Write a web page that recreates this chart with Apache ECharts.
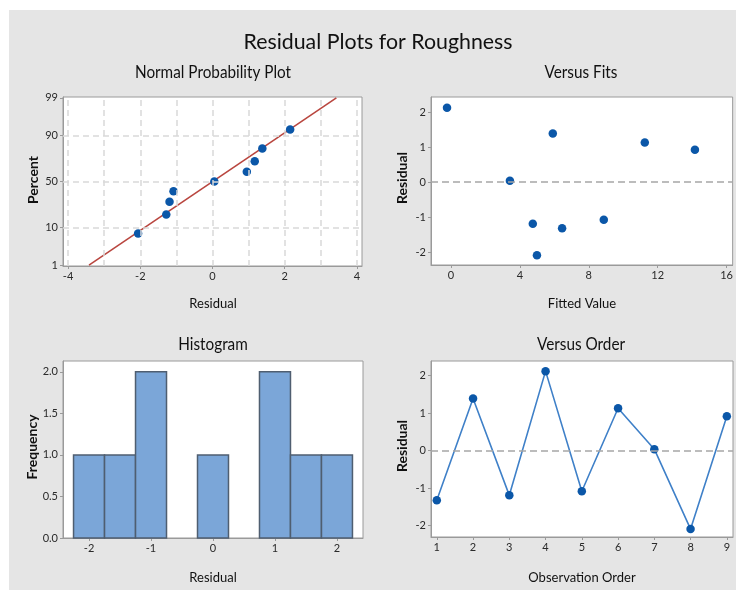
<!DOCTYPE html>
<html><head><meta charset="utf-8">
<script src="https://cdn.jsdelivr.net/npm/echarts@6/dist/echarts.min.js"></script>
<style>html,body{margin:0;padding:0;background:#fff}#c{width:736px;height:590px}</style>
</head><body><div id="c"></div>
<script>
// ---------------- data ----------------
const observationOrder = [1, 2, 3, 4, 5, 6, 7, 8, 9];
const residuals = [-1.32, 1.39, -1.19, 2.12, -1.08, 1.13, 0.04, -2.09, 0.92];
const fittedValues = [6.45, 5.91, 4.75, -0.23, 8.87, 11.25, 3.42, 4.99, 14.16];
const probResiduals = [-2.06, -1.28, -1.19, -1.08, 0.05, 0.95, 1.17, 1.38, 2.15];
const probPercents = [7.4, 17.9, 28.7, 39.4, 50, 60.6, 71.3, 82.1, 92.6];
const fitLineResiduals = [-3.42, 3.43];
const fitLinePercents = [1, 99];
const binStarts = [-2.25, -1.75, -1.25, -0.75, -0.25, 0.25, 0.75, 1.25, 1.75];
const binEnds = [-1.75, -1.25, -0.75, -0.25, 0.25, 0.75, 1.25, 1.75, 2.25];
const frequencies = [1, 1, 2, 0, 1, 0, 2, 1, 1];
const percentTicks = [1, 10, 50, 90, 99];
const percentGrid = [10, 50, 90];
const probResidualTicks = [-4, -2, 0, 2, 4];
const probResidualGrid = [-4, -3, -2, -1, 0, 1, 2, 3, 4];
const fittedTicks = [0, 4, 8, 12, 16];
const residualTicks = [-2, -1, 0, 1, 2];
const histResidualTicks = [-2, -1, 0, 1, 2];
const frequencyTicks = [0, 0.5, 1, 1.5, 2];
const orderTicks = [1, 2, 3, 4, 5, 6, 7, 8, 9];

// ---------------- helpers ----------------
function normInv(p) {
  const a = [-3.969683028665376e+01, 2.209460984245205e+02, -2.759285104469687e+02, 1.383577518672690e+02, -3.066479806614716e+01, 2.506628277459239e+00];
  const b = [-5.447609879822406e+01, 1.615858368580409e+02, -1.556989798598866e+02, 6.680131188771972e+01, -1.328068155288572e+01];
  const c = [-7.784894002430293e-03, -3.223964580411365e-01, -2.400758277161838e+00, -2.549732810004342e+00, 4.374664141464968e+00, 2.938163982698783e+00];
  const d = [7.784695709041462e-03, 3.224671290700398e-01, 2.445134137142996e+00, 3.754408661907416e+00];
  const pl = 0.02425, ph = 1 - pl;
  let q, r;
  if (p < pl) { q = Math.sqrt(-2 * Math.log(p)); return (((((c[0]*q+c[1])*q+c[2])*q+c[3])*q+c[4])*q+c[5]) / ((((d[0]*q+d[1])*q+d[2])*q+d[3])*q+1); }
  if (p <= ph) { q = p - 0.5; r = q*q; return (((((a[0]*r+a[1])*r+a[2])*r+a[3])*r+a[4])*r+a[5])*q / (((((b[0]*r+b[1])*r+b[2])*r+b[3])*r+b[4])*r+1); }
  q = Math.sqrt(-2 * Math.log(1 - p));
  return -(((((c[0]*q+c[1])*q+c[2])*q+c[3])*q+c[4])*q+c[5]) / ((((d[0]*q+d[1])*q+d[2])*q+d[3])*q+1);
}
const zOf = pct => normInv(pct / 100);

const FONT = 'Lato';
const AX = '#9a9a9a';

function valAxis(gridIndex, min, max, ticks, fmt) {
  return {
    type: 'value', gridIndex: gridIndex, min: min, max: max,
    axisLine: { show: true, onZero: false, lineStyle: { color: AX, width: 1 } },
    axisTick: { show: true, customValues: ticks, length: 3, lineStyle: { color: AX } },
    axisLabel: { customValues: ticks, color: '#2a2a2a', fontSize: 11, fontFamily: FONT, margin: 5, formatter: fmt },
    splitLine: { show: false }
  };
}

const gridStyle = { show: true, borderColor: AX, borderWidth: 1, backgroundColor: '#fff' };
const zeroLine = {
  silent: true, symbol: 'none', animation: false,
  label: { show: false },
  lineStyle: { color: '#a6a6a6', type: [7, 4], width: 1.5 },
  data: [{ yAxis: 0 }]
};

function txt(x, y, text, size, rot, weight, sx) {
  return {
    type: 'text', x: x, y: y, rotation: rot || 0, scaleX: sx || 1, z: 100,
    style: { text: text, fill: '#111', fontSize: size, fontWeight: weight || 'normal', fontFamily: FONT, align: 'center', verticalAlign: 'middle' }
  };
}

const chart = echarts.init(document.getElementById('c'), null, { renderer: 'canvas' });
chart.setOption({
  animation: false,
  backgroundColor: '#e5e5e5',
  graphic: [
    { type: 'rect', shape: { x: 0, y: 0, width: 736, height: 10 }, style: { fill: '#fff' }, z: -1 },
    { type: 'rect', shape: { x: 0, y: 0, width: 9, height: 590 }, style: { fill: '#fff' }, z: -1 },
    txt(378, 42, 'Residual Plots for Roughness', 22, 0, 'normal', 0.97),
    txt(213, 73, 'Normal Probability Plot', 17, 0, 'normal', 0.9),
    txt(581, 73, 'Versus Fits', 17, 0, 'normal', 0.9),
    txt(213, 345, 'Histogram', 17, 0, 'normal', 0.9),
    txt(581, 345, 'Versus Order', 17, 0, 'normal', 0.9),
    txt(213, 304, 'Residual', 13),
    txt(582, 304, 'Fitted Value', 13),
    txt(213, 578, 'Residual', 13),
    txt(582, 578, 'Observation Order', 13),
    txt(33, 180, 'Percent', 14, Math.PI / 2, 'bold'),
    txt(402, 178, 'Residual', 14, Math.PI / 2, 'bold'),
    txt(32, 447, 'Frequency', 14, Math.PI / 2, 'bold'),
    txt(402, 446, 'Residual', 14, Math.PI / 2, 'bold')
  ],
  grid: [
    Object.assign({ left: 63, top: 97, width: 299, height: 169 }, gridStyle),
    Object.assign({ left: 431, top: 97, width: 302, height: 168 }, gridStyle),
    Object.assign({ left: 63, top: 361, width: 300, height: 177 }, gridStyle),
    Object.assign({ left: 431, top: 361, width: 302, height: 176 }, gridStyle)
  ],
  xAxis: [
    valAxis(0, -4.14, 4.14, probResidualTicks, v => String(v)),
    valAxis(1, -1.16, 16.35, fittedTicks, v => String(v)),
    valAxis(2, -2.42, 2.42, histResidualTicks, v => String(v)),
    valAxis(3, 0.84, 9.17, orderTicks, v => String(v))
  ],
  yAxis: [
    valAxis(0, -2.35, 2.35, percentTicks.map(zOf), v => {
      let best = percentTicks[0];
      percentTicks.forEach(p => { if (Math.abs(zOf(p) - v) < Math.abs(zOf(best) - v)) best = p; });
      return String(best);
    }),
    valAxis(1, -2.37, 2.43, residualTicks, v => String(v)),
    valAxis(2, 0, 2.13, frequencyTicks, v => v.toFixed(1)),
    valAxis(3, -2.30, 2.39, residualTicks, v => String(v))
  ],
  series: [
    {
      type: 'scatter', xAxisIndex: 0, yAxisIndex: 0, z: 1, symbolSize: 0, data: [],
      markLine: {
        silent: true, symbol: 'none', animation: false, label: { show: false },
        lineStyle: { color: '#d9d9d9', type: [6, 4], width: 1.5 },
        data: percentGrid.map(p => ({ yAxis: zOf(p) })).concat(probResidualGrid.map(v => ({ xAxis: v })))
      }
    },
    {
      type: 'line', xAxisIndex: 0, yAxisIndex: 0, z: 2, symbol: 'none',
      lineStyle: { color: '#b9463f', width: 1.6 },
      data: fitLineResiduals.map((x, i) => [x, zOf(fitLinePercents[i])])
    },
    {
      type: 'scatter', xAxisIndex: 0, yAxisIndex: 0, z: 3, symbolSize: 8.5,
      itemStyle: { color: '#0b57a8', opacity: 1 },
      data: probResiduals.map((x, i) => [x, zOf(probPercents[i])])
    },
    {
      type: 'scatter', xAxisIndex: 1, yAxisIndex: 1, z: 3, symbolSize: 8.5,
      itemStyle: { color: '#0b57a8', opacity: 1 },
      data: fittedValues.map((f, i) => [f, residuals[i]]),
      markLine: zeroLine
    },
    {
      type: 'custom', xAxisIndex: 2, yAxisIndex: 2, z: 3,
      data: binStarts.map((s, i) => [s, binEnds[i], frequencies[i]]),
      renderItem: function (params, api) {
        const h = api.value(2);
        if (!h) return null;
        const p0 = api.coord([api.value(0), h]);
        const p1 = api.coord([api.value(1), 0]);
        return {
          type: 'rect',
          shape: { x: p0[0], y: p0[1], width: p1[0] - p0[0], height: p1[1] - p0[1] },
          style: { fill: '#7ba6d8', stroke: '#4f5e70', lineWidth: 1.5 }
        };
      }
    },
    {
      type: 'line', xAxisIndex: 3, yAxisIndex: 3, z: 3,
      symbol: 'circle', symbolSize: 8.5,
      itemStyle: { color: '#0b57a8' },
      lineStyle: { color: '#3f80c8', width: 1.6 },
      data: observationOrder.map((o, i) => [o, residuals[i]]),
      markLine: zeroLine
    }
  ]
});
</script></body></html>
